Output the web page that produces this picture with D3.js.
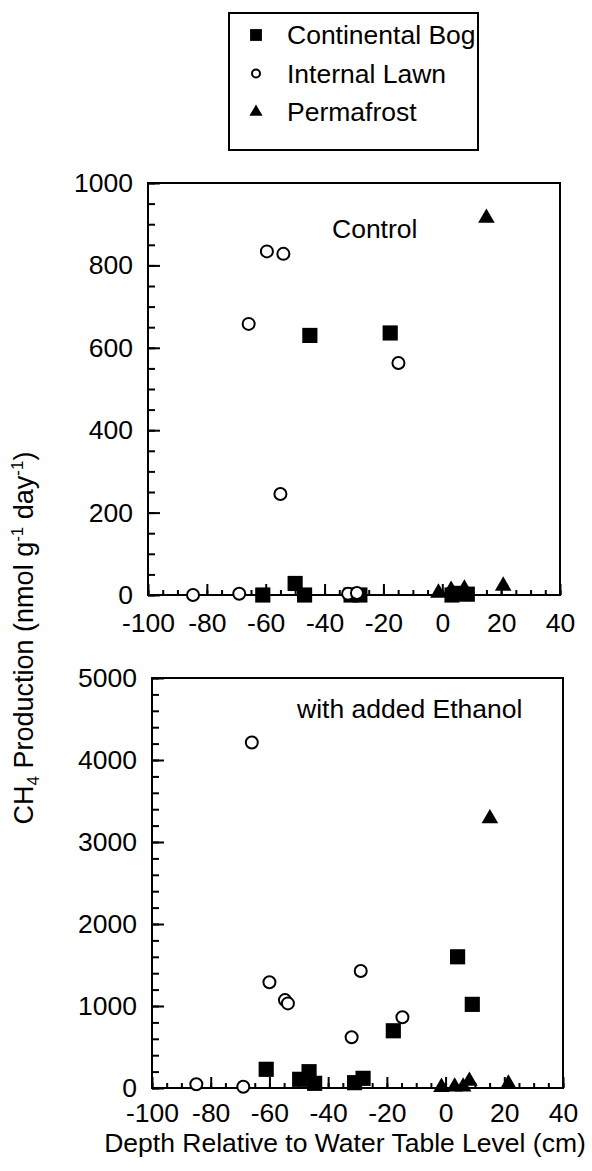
<!doctype html>
<html lang="en">
<head>
	<meta charset="UTF-8">
	<title>CH4 Production vs Depth</title>
	<style>
		body { margin: 0; background: #fff; }
		svg { display: block; font-family: "Liberation Sans", Arial, Helvetica, sans-serif; }
		.tick text { font-size: 26.5px; fill: #000; }
	</style>
</head>
<body>
	<script src="https://cdn.jsdelivr.net/npm/d3@7/dist/d3.min.js"></script>
	<script>
		// series names and tick labels
		var seriesNames = ['Continental Bog', 'Internal Lawn', 'Permafrost'];
		var xTicks = [-100, -80, -60, -40, -20, 0, 20, 40];
		var controlTicks = [0, 200, 400, 600, 800, 1000];
		var ethanolTicks = [0, 1000, 2000, 3000, 4000, 5000];

		// Control
		var ctlBogDepth = [-61, -50, -46.8, -45, -31, -28, -17.7, 3.3, 5.8, 8.5];
		var ctlBogCH4   = [0, 28, 0, 630, 0, 0, 636, 0, 4, 2];
		var ctlLawnDepth = [-84.7, -69, -65.8, -59.6, -55, -54, -32, -29, -14.9];
		var ctlLawnCH4   = [0, 3, 658, 834, 245, 828, 3, 5, 563];
		var ctlPermDepth = [-1.3, 3, 7.5, 15, 20.7];
		var ctlPermCH4   = [5, 12, 15, 915, 22];

		// with added Ethanol
		var ethBogDepth = [-61.1, -49.7, -46.5, -44.6, -31, -28.1, -17.8, 4.1, 9.1];
		var ethBogCH4   = [228, 106, 199, 57, 65, 118, 698, 1600, 1020];
		var ethLawnDepth = [-84.9, -68.9, -66, -60, -54.7, -53.7, -32, -28.9, -14.7];
		var ethLawnCH4   = [45, 16, 4213, 1290, 1072, 1032, 618, 1426, 862];
		var ethPermDepth = [-1.4, 3.1, 6, 8.1, 15.1, 21.4];
		var ethPermCH4   = [10, 15, 15, 85, 3286, 50];

		var w = 592, h = 1171;

		var svg = d3.select('body').append('svg')
			.attr('width', w)
			.attr('height', h);

		var symbols = [
			{ type: d3.symbolSquare, size: 230, fill: '#000', stroke: 'none' },
			{ type: d3.symbolCircle, size: Math.PI * 36, fill: '#fff', stroke: '#000' },
			{ type: d3.symbolTriangle, size: 120, fill: '#000', stroke: 'none' }
		];

		var panels = [
			{ left: 148, right: 560, top: 183, bottom: 595, yMax: 1000, ticks: controlTicks, minor: 50,
			  label: 'Control', lx: 332, ly: 238, xPad: 18,
			  series: [[ctlBogDepth, ctlBogCH4], [ctlLawnDepth, ctlLawnCH4], [ctlPermDepth, ctlPermCH4]] },
			{ left: 152, right: 563, top: 678, bottom: 1088, yMax: 5000, ticks: ethanolTicks, minor: 200,
			  label: 'with added Ethanol', lx: 297, ly: 718, xPad: 15,
			  series: [[ethBogDepth, ethBogCH4], [ethLawnDepth, ethLawnCH4], [ethPermDepth, ethPermCH4]] }
		];

		var fmt = function(d) { return String(d); };

		panels.forEach(function(p) {
			var x = d3.scaleLinear().domain([-100, 40]).range([p.left, p.right]);
			var y = d3.scaleLinear().domain([0, p.yMax]).range([p.bottom, p.top]);
			var g = svg.append('g');

			// minor ticks
			g.append('g')
				.attr('transform', 'translate(' + p.left + ',0)')
				.call(d3.axisLeft(y).tickValues(d3.range(0, p.yMax + 1, p.minor)).tickSize(-7).tickFormat(''))
				.call(function(a) { a.select('.domain').remove(); });
			g.append('g')
				.attr('transform', 'translate(0,' + p.bottom + ')')
				.call(d3.axisBottom(x).tickValues(d3.range(-100, 41, 5)).tickSize(-5).tickFormat(''))
				.call(function(a) { a.select('.domain').remove(); });

			// major ticks + labels
			g.append('g')
				.attr('transform', 'translate(' + p.left + ',0)')
				.call(d3.axisLeft(y).tickValues(p.ticks).tickSize(-12).tickPadding(15).tickFormat(fmt))
				.call(function(a) { a.select('.domain').remove(); });
			g.append('g')
				.attr('transform', 'translate(0,' + p.bottom + ')')
				.call(d3.axisBottom(x).tickValues(xTicks).tickSize(-11).tickPadding(p.xPad).tickFormat(fmt))
				.call(function(a) { a.select('.domain').remove(); });

			g.selectAll('.tick line').attr('stroke', '#000').attr('stroke-width', 2);

			g.append('rect')
				.attr('x', p.left)
				.attr('y', p.top)
				.attr('width', p.right - p.left)
				.attr('height', p.bottom - p.top)
				.attr('fill', 'none')
				.attr('stroke', '#000')
				.attr('stroke-width', 2);

			g.append('text')
				.attr('x', p.lx)
				.attr('y', p.ly)
				.attr('font-size', 26.5)
				.text(p.label);

			p.series.forEach(function(s, i) {
				var sym = symbols[i];
				var pts = s[0].map(function(d, j) { return [d, s[1][j]]; });
				g.selectAll('path.s' + i)
					.data(pts)
					.enter()
					.append('path')
					.attr('class', 's' + i)
					.attr('d', d3.symbol().type(sym.type).size(sym.size))
					.attr('transform', function(d) {
						return 'translate(' + x(d[0]) + ',' + y(d[1]) + ')';
					})
					.attr('fill', sym.fill)
					.attr('stroke', sym.stroke)
					.attr('stroke-width', 2);
			});
		});

		// legend
		var legend = svg.append('g');
		legend.append('rect')
			.attr('x', 229)
			.attr('y', 13)
			.attr('width', 249)
			.attr('height', 137)
			.attr('fill', 'none')
			.attr('stroke', '#000')
			.attr('stroke-width', 2);

		var legendSyms = [
			{ type: d3.symbolSquare, size: 140, fill: '#000', stroke: 'none' },
			{ type: d3.symbolCircle, size: Math.PI * 16, fill: '#fff', stroke: '#000' },
			{ type: d3.symbolTriangle, size: 75, fill: '#000', stroke: 'none' }
		];

		var rows = legend.selectAll('g.row')
			.data(seriesNames)
			.enter()
			.append('g')
			.attr('class', 'row')
			.attr('transform', function(d, i) { return 'translate(256,' + (35 + i * 38.5) + ')'; });

		rows.append('path')
			.attr('d', function(d, i) { return d3.symbol().type(legendSyms[i].type).size(legendSyms[i].size)(); })
			.attr('fill', function(d, i) { return legendSyms[i].fill; })
			.attr('stroke', function(d, i) { return legendSyms[i].stroke; })
			.attr('stroke-width', 2);

		rows.append('text')
			.attr('x', 31)
			.attr('y', 9)
			.attr('font-size', 26.5)
			.text(function(d) { return d; });

		// axis titles
		svg.append('text')
			.attr('x', 345)
			.attr('y', 1152)
			.attr('text-anchor', 'middle')
			.attr('font-size', 26.5)
			.text('Depth Relative to Water Table Level (cm)');

		var yt = svg.append('text')
			.attr('transform', 'translate(33,638) rotate(-90)')
			.attr('text-anchor', 'middle')
			.attr('font-size', 27);
		yt.append('tspan').text('CH');
		yt.append('tspan').attr('font-size', 17).attr('dy', 6).text('4');
		yt.append('tspan').attr('dy', -6).text(' Production (nmol g');
		yt.append('tspan').attr('font-size', 17).attr('dy', -10).text('-1');
		yt.append('tspan').attr('dy', 10).text(' day');
		yt.append('tspan').attr('font-size', 17).attr('dy', -10).text('-1');
		yt.append('tspan').attr('dy', 10).text(')');
	</script>
</body>
</html>
